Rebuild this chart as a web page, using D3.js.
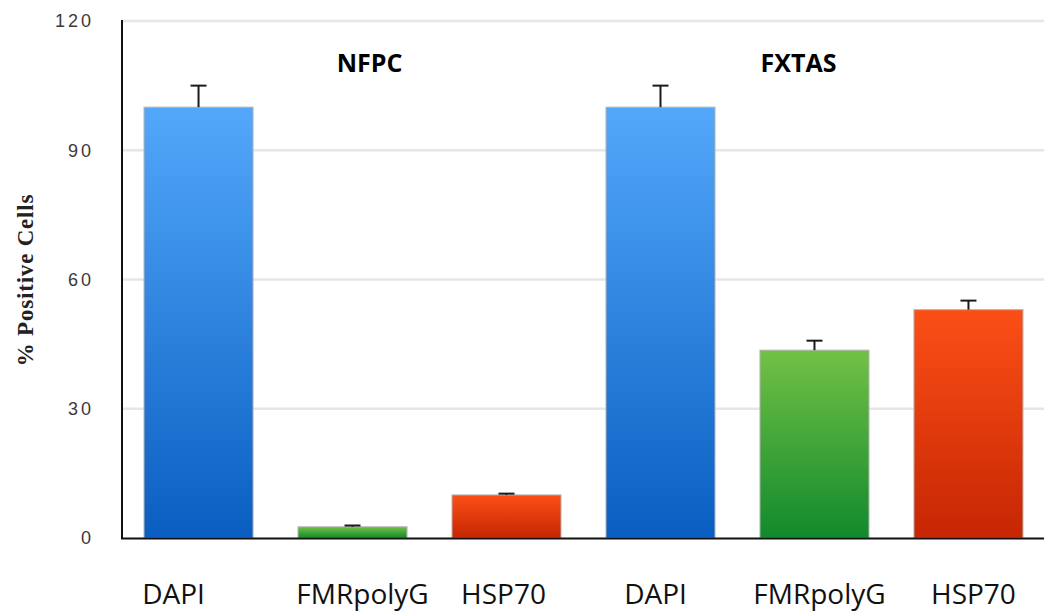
<!DOCTYPE html>
<html>
<head>
<meta charset="utf-8">
<script src="https://cdn.jsdelivr.net/npm/d3@7"></script>
<style>
  html, body { margin: 0; padding: 0; background: #fff; }
  svg { display: block; }
</style>
</head>
<body>
<svg id="chart" width="1044" height="615"></svg>
<script>
// ---- data ----
const categories = ["DAPI", "FMRpolyG", "HSP70", "DAPI", "FMRpolyG", "HSP70"];
const groups = ["NFPC", "FXTAS"];
const values = [100, 2.6, 10, 100, 43.6, 53];
const errors = [5, 0.3, 0.3, 5, 2.2, 2.1];
const yTicks = [0, 30, 60, 90, 120];
const yTitle = "% Positive Cells";

// ---- style ----
const gradients = {
  DAPI: ["#53a8fb", "#0a5ec1"],
  FMRpolyG: ["#72c146", "#118a2c"],
  HSP70: ["#fc4f16", "#c62604"]
};
const labelShift = [-25, 10, -3, -5, 5, 5];

const W = 1044, H = 615;
const svg = d3.select("#chart");

const x = d3.scaleBand()
  .domain(d3.range(categories.length))
  .range([122, 1045])
  .paddingInner(0.292)
  .paddingOuter(0.143);

const y = d3.scaleLinear().domain([0, 120]).range([538, 21]);

const defs = svg.append("defs");
Object.entries(gradients).forEach(([k, [c0, c1]]) => {
  const g = defs.append("linearGradient").attr("id", "grad-" + k)
    .attr("x1", 0).attr("y1", 0).attr("x2", 0).attr("y2", 1);
  g.append("stop").attr("offset", "0%").attr("stop-color", c0);
  g.append("stop").attr("offset", "100%").attr("stop-color", c1);
});

// gridlines
svg.append("g").selectAll("line").data(yTicks.filter(d => d > 0)).join("line")
  .attr("x1", 122).attr("x2", W)
  .attr("y1", d => y(d)).attr("y2", d => y(d))
  .attr("stroke", "#e6e6e6").attr("stroke-width", 2.5);

// y axis tick labels
const yAxis = d3.axisLeft(y).tickValues(yTicks).tickSize(0).tickPadding(28);
const yg = svg.append("g").attr("transform", "translate(122,0)").call(yAxis);
yg.select(".domain").remove();
yg.selectAll("text")
  .attr("font-family", "Liberation Sans, Arial, sans-serif")
  .attr("font-size", 18)
  .attr("letter-spacing", 3)
  .attr("fill", "#3a3a3a");

// bars
svg.append("g").selectAll("rect").data(values).join("rect")
  .attr("x", (d, i) => x(i))
  .attr("y", d => y(d))
  .attr("width", x.bandwidth())
  .attr("height", d => y(0) - y(d))
  .attr("fill", (d, i) => `url(#grad-${categories[i]})`)
  .attr("stroke", "#b5b5b5")
  .attr("stroke-width", 1);

// error bars
const eg = svg.append("g").attr("stroke", "#1a1a1a").attr("stroke-width", 2);
values.forEach((v, i) => {
  const cx = x(i) + x.bandwidth() / 2;
  eg.append("line").attr("x1", cx).attr("x2", cx).attr("y1", y(v)).attr("y2", y(v + errors[i]));
  eg.append("line").attr("x1", cx - 8).attr("x2", cx + 8).attr("y1", y(v + errors[i])).attr("y2", y(v + errors[i]));
});

// axes lines
svg.append("line").attr("x1", 122).attr("x2", 122).attr("y1", 20).attr("y2", 539)
  .attr("stroke", "#111").attr("stroke-width", 2);
svg.append("line").attr("x1", 121).attr("x2", W).attr("y1", 538.5).attr("y2", 538.5)
  .attr("stroke", "#111").attr("stroke-width", 2);

// category labels
svg.append("g").selectAll("text").data(categories).join("text")
  .attr("x", (d, i) => x(i) + x.bandwidth() / 2 + labelShift[i])
  .attr("y", 604)
  .attr("text-anchor", "middle")
  .attr("font-family", "Open Sans, Carlito, sans-serif")
  .attr("font-size", 28)
  .attr("fill", "#111")
  .text(d => d);

// group titles
const groupOffsets = [17, -16];
svg.append("g").selectAll("text").data(groups).join("text")
  .attr("x", (d, i) => x(i * 3 + 1) + x.bandwidth() / 2 + groupOffsets[i])
  .attr("y", 72)
  .attr("text-anchor", "middle")
  .attr("font-family", "Open Sans, sans-serif")
  .attr("font-weight", "bold")
  .attr("font-size", 25)
  .attr("fill", "#000")
  .text(d => d);

// y title
svg.append("text")
  .attr("transform", "translate(33,280) rotate(-90)")
  .attr("text-anchor", "middle")
  .attr("font-family", "Liberation Serif, Times New Roman, serif")
  .attr("font-weight", "bold")
  .attr("font-size", 23)
  .attr("letter-spacing", 0.8)
  .attr("fill", "#222")
  .text(yTitle);
</script>
</body>
</html>
